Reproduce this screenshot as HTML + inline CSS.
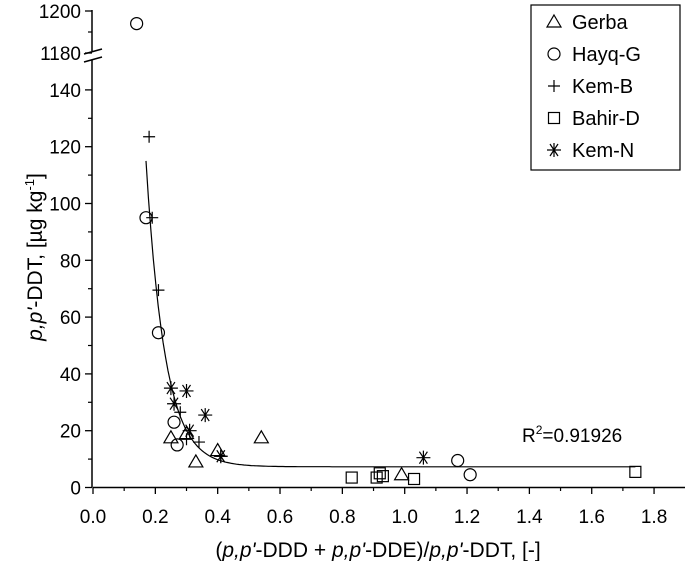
<!DOCTYPE html>
<html><head><meta charset="utf-8"><style>
html,body{margin:0;padding:0;background:#fff;}
svg{display:block;font-family:"Liberation Sans",Arial,sans-serif;}
</style></head><body>
<svg id="chart" width="685" height="561" viewBox="0 0 685 561"></svg>
<script>
const xTicks=[0,0.2,0.4,0.6,0.8,1.0,1.2,1.4,1.6,1.8];
const xTickLabels=["0.0","0.2","0.4","0.6","0.8","1.0","1.2","1.4","1.6","1.8"];
const yTicks=[0,20,40,60,80,100,120,140];
const yTopTicks=[1180,1200];
const gerbaX=[0.25,0.30,0.33,0.40,0.54,0.99];
const gerbaY=[17.5,19,9,13,17.5,4.5];
const hayqX=[0.14,0.17,0.21,0.26,0.27,1.17,1.21];
const hayqY=[1194,95,54.5,23,15,9.5,4.5];
const kembX=[0.18,0.19,0.21,0.28,0.34,0.30,0.41];
const kembY=[123.5,95,69.5,26.5,16,17,11];
const bahirX=[0.83,0.91,0.92,0.93,1.03,1.74];
const bahirY=[3.5,3.5,5,4,3,5.5];
const kemnX=[0.25,0.30,0.26,0.36,0.31,0.41,1.06];
const kemnY=[35,34,29.5,25.5,20,11,10.5];
const fitParams=[7.3,107.7,0.17,0.061]; // y0, A, x0, t
const fitRange=[0.17,1.74];

const NS="http://www.w3.org/2000/svg";
const svg=document.getElementById('chart');
function X(v){return 93+v*311.7;}
function Y(v){return v>=1170?53-(v-1180)*2.1:487.5-v*2.84;}
function mk(t,a,p){const e=document.createElementNS(NS,t);for(const k in a)e.setAttribute(k,a[k]);(p||svg).appendChild(e);return e;}
const S={stroke:'#000','stroke-width':1.2,fill:'none'};

const ax=mk('line',{x1:93,y1:487.5,x2:685,y2:487.5,stroke:'#000','stroke-width':1.5});

const ay1=mk('path',{d:'M92,487.5 L92,60 M92,51 L92,10',stroke:'#000','stroke-width':1.5,fill:'none'});

const br=mk('path',{d:'M84,54 L102,49 M84,62 L102,57',stroke:'#000','stroke-width':1.5,fill:'none'});


for(let i=0;i<xTicks.length;i++){
  const x=X(xTicks[i]);
  mk('line',{x1:x,y1:487.5,x2:x,y2:494,stroke:'#000','stroke-width':1.3});
  if(i<xTicks.length-1){const xm=X(xTicks[i]+0.1);mk('line',{x1:xm,y1:487.5,x2:xm,y2:491,stroke:'#000','stroke-width':1.2});}
  const t=mk('text',{x:x,y:523,'text-anchor':'middle','font-size':19});t.textContent=xTickLabels[i];
  
}
for(let i=0;i<yTicks.length;i++){
  const y=Y(yTicks[i]);
  mk('line',{x1:85,y1:y,x2:92,y2:y,stroke:'#000','stroke-width':1.3});
  if(i<yTicks.length-1){const ym=Y(yTicks[i]+10);mk('line',{x1:88,y1:ym,x2:92,y2:ym,stroke:'#000','stroke-width':1.2});}
  const t=mk('text',{x:81,y:y+7,'text-anchor':'end','font-size':19});t.textContent=yTicks[i];
  
}
for(let i=0;i<yTopTicks.length;i++){
  const y=Y(yTopTicks[i]);
  mk('line',{x1:85,y1:y,x2:92,y2:y,stroke:'#000','stroke-width':1.3});
  const t=mk('text',{x:81,y:y+7,'text-anchor':'end','font-size':19});t.textContent=yTopTicks[i];
  
}
mk('line',{x1:88,y1:Y(1190),x2:92,y2:Y(1190),stroke:'#000','stroke-width':1.2});

let d='';
for(let i=0;i<=200;i++){const x=fitRange[0]+(fitRange[1]-fitRange[0])*i/200;const y=fitParams[0]+fitParams[1]*Math.exp(-(x-fitParams[2])/fitParams[3]);d+=(i?'L':'M')+X(x).toFixed(1)+','+Y(y).toFixed(1);}
const fc=mk('path',{d:d,stroke:'#000','stroke-width':1.2,fill:'none'});


function sym(type,cx,cy,g){
  if(type==='tri')mk('path',Object.assign({d:`M${cx},${cy-7}L${cx+7},${cy+5}L${cx-7},${cy+5}Z`},S),g);
  else if(type==='cir')mk('circle',Object.assign({cx:cx,cy:cy,r:6},S),g);
  else if(type==='plus')mk('path',Object.assign({d:`M${cx-6},${cy}H${cx+6}M${cx},${cy-6}V${cy+6}`},S),g);
  else if(type==='sq')mk('rect',Object.assign({x:cx-5.5,y:cy-5.5,width:11,height:11},S),g);
  else mk('path',Object.assign({d:`M${cx-7},${cy}H${cx+7}M${cx-4},${cy-6}L${cx+4},${cy+6}M${cx+4},${cy-6}L${cx-4},${cy+6}M${cx},${cy-7}V${cy+7}`},S),g);
}
const series=[['gerba','tri',gerbaX,gerbaY,'Gerba'],['hayq-g','cir',hayqX,hayqY,'Hayq-G'],['kem-b','plus',kembX,kembY,'Kem-B'],['bahir-d','sq',bahirX,bahirY,'Bahir-D'],['kem-n','ast',kemnX,kemnY,'Kem-N']];
series.forEach(s=>{
  const g=mk('g',{});
  
  for(let i=0;i<s[2].length;i++)sym(s[1],X(s[2][i]),Y(s[3][i]),g);
});

const lg=mk('g',{});

mk('rect',{x:531,y:5,width:149,height:165,fill:'#fff',stroke:'#000','stroke-width':1.2},lg);
const rows=[22,54,86,118,150];
series.forEach((s,i)=>{
  const g=mk('g',{},lg);
  
  sym(s[1],554,rows[i],g);
  const t=mk('text',{x:572,y:rows[i]+7,'font-size':20},g);t.textContent=s[4];
});

const r2=mk('text',{x:522,y:442,'font-size':19});
r2.innerHTML='R<tspan dy="-8" font-size="12">2</tspan><tspan dy="8">=0.91926</tspan>';


const xt=mk('text',{x:378,y:557,'text-anchor':'middle','font-size':21});
xt.innerHTML='(<tspan font-style="italic">p,p\'</tspan>-DDD + <tspan font-style="italic">p,p\'</tspan>-DDE)/<tspan font-style="italic">p,p\'</tspan>-DDT, [-]';

const yt=mk('text',{x:0,y:0,'text-anchor':'middle','font-size':21,transform:'translate(42,257) rotate(-90)'});
yt.innerHTML='<tspan font-style="italic">p,p\'</tspan>-DDT, [µg kg<tspan dy="-8" font-size="13">-1</tspan><tspan dy="8">]</tspan>';

</script>
</body></html>
